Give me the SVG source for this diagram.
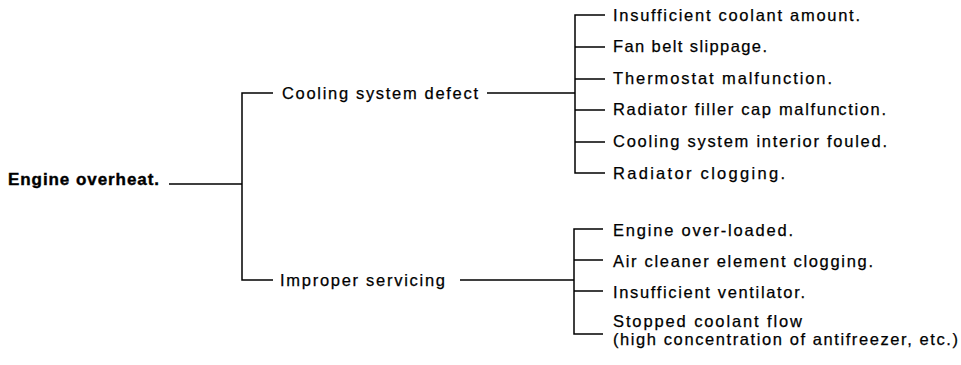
<svg xmlns="http://www.w3.org/2000/svg" width="961" height="365" viewBox="0 0 961 365">
<style>
text{font-family:"Liberation Sans",Arial,sans-serif;font-size:16.5px;fill:#000;stroke:#000;stroke-width:0.25}
.b{font-weight:bold;font-size:17px;stroke-width:0.4}
.c{fill:none;stroke:#000;stroke-width:1.5}
</style>
<rect width="961" height="365" fill="#fff"/>
<g id="connectors">
<path class="c" d="M169 184H242M273 93H242V280H273M487 93H575M605 15H575V173H605M575 47H605M575 79H605M575 110H605M575 142H605M460 280H574M603 229H574V334H603M574 260H603M574 291H603"/>
</g>
<g id="root"><text class="b" x="8" y="185" textLength="151" lengthAdjust="spacing">Engine overheat.</text></g>
<g id="cooling"><text x="282" y="99" textLength="196" lengthAdjust="spacing">Cooling system defect</text></g>
<g id="servicing"><text x="280" y="286" textLength="165" lengthAdjust="spacing">Improper servicing</text></g>
<g id="c1"><text x="613" y="21" textLength="247" lengthAdjust="spacing">Insufficient coolant amount.</text></g>
<g id="c2"><text x="613" y="52" textLength="154" lengthAdjust="spacing">Fan belt slippage.</text></g>
<g id="c3"><text x="613" y="84" textLength="219" lengthAdjust="spacing">Thermostat malfunction.</text></g>
<g id="c4"><text x="613" y="115" textLength="273" lengthAdjust="spacing">Radiator filler cap malfunction.</text></g>
<g id="c5"><text x="613" y="147" textLength="274" lengthAdjust="spacing">Cooling system interior fouled.</text></g>
<g id="c6"><text x="613" y="179" textLength="172" lengthAdjust="spacing">Radiator clogging.</text></g>
<g id="s1"><text x="613" y="236" textLength="180" lengthAdjust="spacing">Engine over-loaded.</text></g>
<g id="s2"><text x="613" y="267" textLength="260" lengthAdjust="spacing">Air cleaner element clogging.</text></g>
<g id="s3"><text x="613" y="298" textLength="192" lengthAdjust="spacing">Insufficient ventilator.</text></g>
<g id="s4"><text x="613" y="326.5" textLength="189" lengthAdjust="spacing">Stopped coolant flow</text><text x="613" y="345" textLength="345" lengthAdjust="spacing">(high concentration of antifreezer, etc.)</text></g>
</svg>
